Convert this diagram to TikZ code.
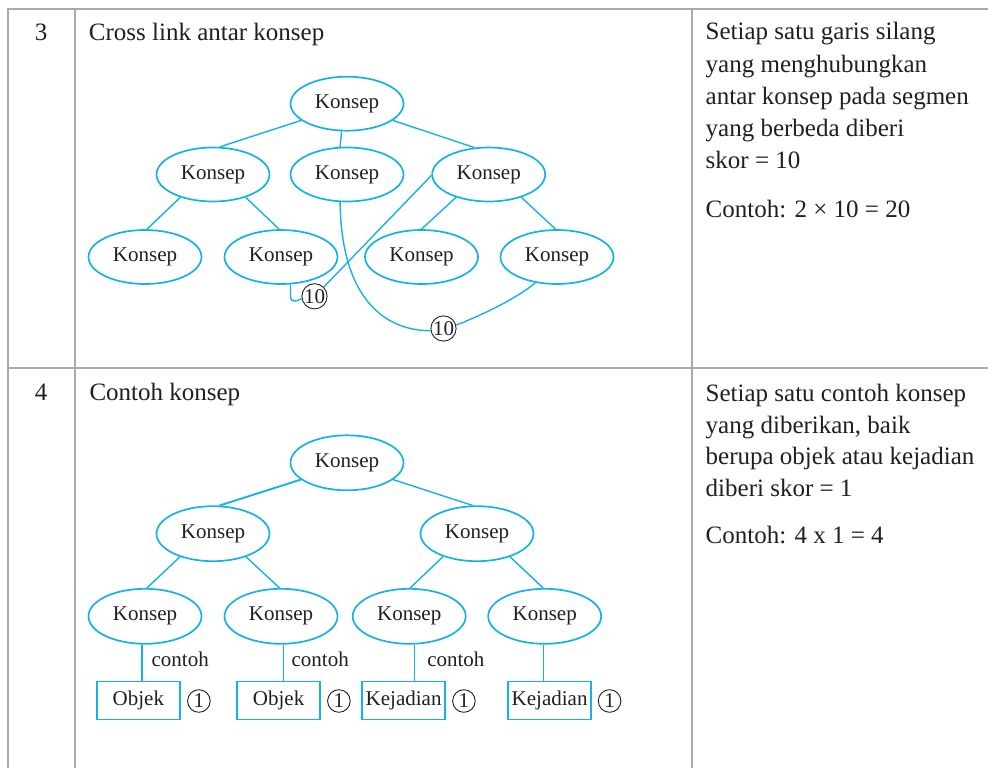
\documentclass[tikz,border=0pt]{standalone}
\usepackage{fontspec}
\setmainfont{Liberation Serif}
\usetikzlibrary{shapes.geometric}
\definecolor{kcyan}{RGB}{20,178,232}
\definecolor{ktxt}{RGB}{35,31,32}
\definecolor{kgrid}{RGB}{170,170,170}
\newcommand\cellfont{\fontsize{25}{30}\selectfont}
\newcommand\knfont{\fontsize{21}{25}\selectfont}
\begin{document}
\begin{tikzpicture}[x=1pt,y=-1pt,
  gridline/.style={draw=kgrid, line width=2pt},
  kon/.style={ellipse, draw=kcyan, line width=1.7pt, minimum width=113pt, minimum height=54pt, inner sep=0pt, font=\knfont, text=ktxt},
  konb/.style={kon, minimum height=55pt},
  link/.style={draw=kcyan, line width=1.4pt},
  score/.style={circle, draw=ktxt, line width=0.9pt, minimum size=24pt, inner sep=0pt, font=\knfont, text=ktxt},
  scoresm/.style={score, minimum size=22.6pt},
  exbox/.style={rectangle, draw=kcyan, line width=1.6pt, minimum width=83pt, minimum height=37.7pt, inner sep=0pt, font=\knfont, text=ktxt},
  cell/.style={anchor=base west, inner sep=0pt, font=\cellfont, text=ktxt},
  num/.style={anchor=base, inner sep=0pt, font=\cellfont, text=ktxt},
  lbl/.style={anchor=base west, inner sep=0pt, font=\knfont, text=ktxt}]
\useasboundingbox (0,0) rectangle (988,768);
\fill[white] (0,0) rectangle (988,768);

% table grid
\draw[gridline] (988,9) -- (7.5,9) -- (7.5,768);
\draw[gridline] (7.5,368.3) -- (988,368.3);
\draw[gridline] (75,9) -- (75,768);
\draw[gridline] (691.7,9) -- (691.7,768);

% row 3 texts
\node[num] (n3) at (41,40.5) {3};
\node[cell] (ti3) at (88.7,40.5) {Cross link antar konsep};
\foreach \t [count=\i] in {Setiap satu garis silang, yang menghubungkan, antar konsep pada segmen, yang berbeda diberi, skor = 10}
  \node[cell] (d3l\i) at (705.5,{40+32.2*(\i-1)}) {\t};
\node[cell] (d3c) at (705.5,217) {Contoh: 2 × 10 = 20};

% row 4 texts
\node[num] (n4) at (41,400) {4};
\node[cell] (ti4) at (89.3,400) {Contoh konsep};
\foreach \t [count=\i] in {Setiap satu contoh konsep, {yang diberikan, baik}, berupa objek atau kejadian, diberi skor = 1}
  \node[cell] (d4l\i) at (705.5,{401.3+31.7*(\i-1)}) {\t};
\node[cell] (d4c) at (705.5,543) {Contoh: 4 x 1 = 4};

% ---- diagram row 3 ----
\node[kon] (t3) at (347,103.7) {Konsep};
\node[kon] (a3) at (213,174.5) {Konsep};
\node[kon] (m3) at (347,174.5) {Konsep};
\node[kon] (b3) at (488.7,174.5) {Konsep};
\node[kon] (aa3) at (145,257) {Konsep};
\node[kon] (ab3) at (281,257) {Konsep};
\node[kon] (ba3) at (421.5,257) {Konsep};
\node[kon] (bb3) at (557,257) {Konsep};
\node[score] (c1) at (314.5,296.3) {10};
\node[score] (c2) at (443.5,328.5) {10};

\draw[link] (t3.200) -- (a3.76);
\draw[link] (t3.259) -- (m3.104);
\draw[link] (t3.340) -- (b3.118);
\draw[link] (a3.215) -- (aa3.86);
\draw[link] (a3.325) -- (ab3.94);
\draw[link] (b3.215) -- (ba3.90);
\draw[link] (b3.325) -- (bb3.93);
% cross links
\draw[link] (b3.181) -- (c1.45);
\draw[link] (ab3.289) -- ++(0,12) .. controls +(0,6) and (296,302) .. (c1.190);
\draw[link] (m3.256) .. controls (341,290) and (378,330.5) .. (c2.190);
\draw[link] (c2.15) .. controls (475,318) and (515,300) .. (bb3.230);

% ---- diagram row 4 ----
\node[konb] (t4) at (347,462.8) {Konsep};
\node[konb] (a4) at (213,533.7) {Konsep};
\node[konb] (b4) at (477,533.7) {Konsep};
\node[konb] (aa4) at (145,616.3) {Konsep};
\node[konb] (ab4) at (281,616.3) {Konsep};
\node[konb] (ba4) at (409.2,616.3) {Konsep};
\node[konb] (bb4) at (544.7,616.3) {Konsep};

\draw[link, line width=1.9pt] (t4.200) -- (a4.77);
\draw[link] (t4.340) -- (b4.99);
\draw[link] (a4.215) -- (aa4.86);
\draw[link] (a4.325) -- (ab4.93);
\draw[link] (b4.214) -- (ba4.88);
\draw[link] (b4.325) -- (bb4.93);

\node[exbox] (bx1) at (138.4,700.5) {Objek};
\node[exbox] (bx2) at (278.6,700.5) {Objek};
\node[exbox] (bx3) at (403.6,700.5) {Kejadian};
\node[exbox] (bx4) at (549.6,700.5) {Kejadian};

\draw[link] ([xshift=3.4pt]bx1.north) -- ([xshift=3.4pt]bx1.north |- aa4.south);
\draw[link] ([xshift=5pt]bx2.north) -- ([xshift=5pt]bx2.north |- ab4.south);
\draw[link] ([xshift=11pt]bx3.north) -- ([xshift=11pt]bx3.north |- ba4.south);
\draw[link] ([xshift=-6pt]bx4.north) -- ([xshift=-6pt]bx4.north |- bb4.south);

\node[lbl] (k1) at (151.4,666.7) {contoh};
\node[lbl] (k2) at (291.4,666.7) {contoh};
\node[lbl] (k3) at (427.1,666.7) {contoh};

\node[scoresm] (s1) at (198.9,701) {1};
\node[scoresm] (s2) at (338.9,701) {1};
\node[scoresm] (s3) at (463.9,701) {1};
\node[scoresm] (s4) at (609.6,701) {1};
\end{tikzpicture}
\end{document}
